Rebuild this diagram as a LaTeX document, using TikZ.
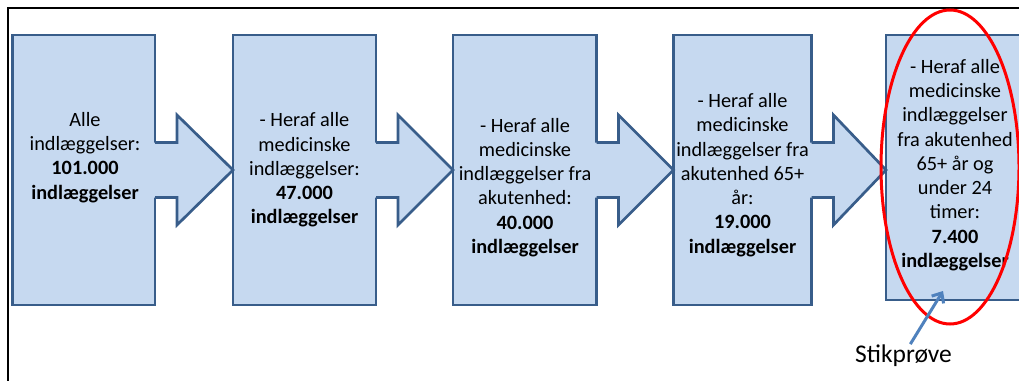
\documentclass[tikz,border=0pt]{standalone}
\usepackage{fontspec}
\setmainfont{Carlito}
\usetikzlibrary{arrows.meta}
\definecolor{boxfill}{RGB}{198,217,240}
\definecolor{boxline}{RGB}{56,93,138}
\definecolor{pointer}{RGB}{79,129,189}
\begin{document}
\begin{tikzpicture}[
    x=1pt, y=-1pt,
    stage/.style={draw=boxline, fill=boxfill, line width=2.7pt, inner sep=0pt, outer sep=0pt, minimum height=270pt},
    stagetext/.style={align=center, inner sep=0pt, font=\fontsize{20.3}{24.3}\selectfont},
    ring/.style={red, line width=3pt},
]
    \useasboundingbox (0,0) rectangle (1019,380);
    \draw[line width=2pt] (8,390) -- (8,8) -- (1030,8);

    % the five stages
    \node[stage, minimum width=142.5pt] (b1) at (83.75,170) {};
    \node[stage, minimum width=143pt] (b2) at (304.5,170) {};
    \node[stage, minimum width=143.5pt] (b3) at (524.75,170) {};
    \node[stage, minimum width=138pt] (b4) at (742.5,170) {};
    \node[stage, minimum width=140pt, minimum height=265pt] (b5) at (956,167.5) {};

    % block arrows from one stage to the next
    \foreach \i/\j in {1/2,2/3,3/4,4/5} {
        \fill[boxfill] ([shift={(-2,-27.5)}]b\i.east) -- ([shift={(22,-27.5)}]b\i.east)
            -- ([shift={(22,-55)}]b\i.east) -- (b\j.west |- b\i.east)
            -- ([shift={(22,55)}]b\i.east) -- ([shift={(22,27.5)}]b\i.east)
            -- ([shift={(-2,27.5)}]b\i.east) -- cycle;
        \draw[boxline, line width=2.7pt, line join=miter] ([shift={(0,-27.5)}]b\i.east)
            -- ([shift={(22,-27.5)}]b\i.east) -- ([shift={(22,-55)}]b\i.east)
            -- (b\j.west |- b\i.east) -- ([shift={(22,55)}]b\i.east)
            -- ([shift={(22,27.5)}]b\i.east) -- ([shift={(0,27.5)}]b\i.east);
    }

    \node[stagetext] (t1) at (85,157.5) {Alle\\indlæggelser:\\\textbf{101.000}\\\textbf{indlæggelser}};
    \node[stagetext] (t2) at (304.5,170) {- Heraf alle\\medicinske\\indlæggelser:\\\textbf{47.000}\\\textbf{indlæggelser}};
    \node[stagetext] (t3) at (525,187.5) {- Heraf alle\\medicinske\\indlæggelser fra\\akutenhed:\\\textbf{40.000}\\\textbf{indlæggelser}};
    \node[stagetext] (t4) at (742.5,175) {- Heraf alle\\medicinske\\indlæggelser fra\\akutenhed 65+\\år:\\\textbf{19.000}\\\textbf{indlæggelser}};
    \node[stagetext] (t5) at (955,165) {- Heraf alle\\medicinske\\indlæggelser\\fra akutenhed\\65+ år og\\under 24\\timer:\\\textbf{7.400}\\\textbf{indlæggelser}};

    \draw[ring] (950,167) ellipse [x radius=69pt, y radius=157pt];

    \node[font=\fontsize{25.5}{30}\selectfont, inner sep=0pt, anchor=base] (stik) at (903.5,362) {Stikprøve};
    \coordinate (stiktip) at (943,291);
    \draw[pointer, line width=3pt, -{Straight Barb[length=8pt,width=14pt]}] (stik) -- (stiktip);
\end{tikzpicture}
\end{document}
